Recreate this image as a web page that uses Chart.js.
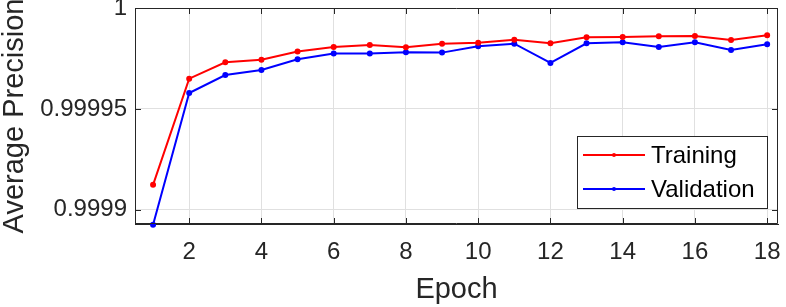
<!DOCTYPE html>
<html>
<head>
<meta charset="utf-8">
<script src="https://cdn.jsdelivr.net/npm/chart.js@4.4.1/dist/chart.umd.min.js"></script>
<style>
  html, body { margin: 0; padding: 0; background: #fff; }
  #wrap { width: 786px; height: 307px; }
</style>
</head>
<body>
<div id="wrap"><canvas id="grafico"></canvas></div>
<script>
// dati
const epoche = [1, 2, 3, 4, 5, 6, 7, 8, 9, 10, 11, 12, 13, 14, 15, 16, 17, 18];
const training = [0.9999124, 0.999965, 0.9999731, 0.9999744, 0.9999784, 0.9999807, 0.9999817, 0.9999805, 0.9999823,
    0.9999828, 0.9999843, 0.9999825, 0.9999855, 0.9999856, 0.999986, 0.9999861, 0.9999842, 0.9999865];
const validation = [0.9998926, 0.9999579, 0.9999668, 0.9999693, 0.9999746, 0.9999774, 0.9999774, 0.9999781, 0.9999779,
    0.999981, 0.9999823, 0.9999728, 0.9999825, 0.999983, 0.9999807, 0.999983, 0.9999792, 0.999982];
const xTicks = [2, 4, 6, 8, 10, 12, 14, 16, 18];
const xTickLabels = ['2', '4', '6', '8', '10', '12', '14', '16', '18'];
const yTicks = [0.9999, 0.99995, 1];
const yTickLabels = ['0.9999', '0.99995', '1'];

const coloreAssi = '#262626';
const font = 'Liberation Sans, Arial, Helvetica, sans-serif';

// box e tacche verso l'interno, come in MATLAB
const boxPlugin = {
    id: 'box',
    afterDatasetsDraw(chart) {
        const ctx = chart.ctx;
        const a = chart.chartArea;
        const xs = chart.scales.x;
        const ys = chart.scales.y;
        const len = 6;
        ctx.save();
        ctx.strokeStyle = coloreAssi;
        ctx.lineWidth = 1;
        ctx.beginPath();
        ctx.rect(a.left + 0.5, a.top + 0.5, a.right - a.left - 1, a.bottom - a.top - 1);
        xTicks.forEach(t => {
            const px = Math.round(xs.getPixelForValue(t)) + 0.5;
            ctx.moveTo(px, a.bottom);
            ctx.lineTo(px, a.bottom - len);
            ctx.moveTo(px, a.top);
            ctx.lineTo(px, a.top + len);
        });
        yTicks.forEach(t => {
            const py = Math.round(ys.getPixelForValue(t)) + 0.5;
            ctx.moveTo(a.left, py);
            ctx.lineTo(a.left + len, py);
            ctx.moveTo(a.right, py);
            ctx.lineTo(a.right - len, py);
        });
        ctx.stroke();
        ctx.restore();
    }
};

// legenda in basso a destra dentro l'area del grafico
const legendaPlugin = {
    id: 'legenda',
    afterDraw(chart) {
        const ctx = chart.ctx;
        const x0 = 577, y0 = 136, w = 190, h = 72;
        ctx.save();
        ctx.fillStyle = '#fff';
        ctx.fillRect(x0, y0, w, h);
        ctx.strokeStyle = coloreAssi;
        ctx.lineWidth = 1;
        ctx.strokeRect(x0 + 0.5, y0 + 0.5, w, h);
        chart.data.datasets.forEach((ds, i) => {
            const cy = y0 + 19 + i * 34;
            ctx.strokeStyle = ds.borderColor;
            ctx.lineWidth = 2;
            ctx.beginPath();
            ctx.moveTo(x0 + 6, cy);
            ctx.lineTo(x0 + 68, cy);
            ctx.stroke();
            ctx.fillStyle = ds.borderColor;
            ctx.beginPath();
            ctx.arc(x0 + 37, cy, 2, 0, Math.PI * 2);
            ctx.fill();
            ctx.fillStyle = '#000';
            ctx.font = '24px ' + font;
            ctx.textBaseline = 'middle';
            ctx.fillText(ds.label, x0 + 74, cy + 1);
        });
        ctx.restore();
    }
};

const ctx = document.getElementById('grafico').getContext('2d');
new Chart(ctx, {
    type: 'line',
    data: {
        datasets: [{
            label: 'Training',
            data: epoche.map((e, i) => ({ x: e, y: training[i] })),
            borderColor: '#ff0000',
            backgroundColor: '#ff0000',
            borderWidth: 2,
            pointRadius: 2,
            pointHoverRadius: 2,
            tension: 0,
            clip: false
        }, {
            label: 'Validation',
            data: epoche.map((e, i) => ({ x: e, y: validation[i] })),
            borderColor: '#0000ff',
            backgroundColor: '#0000ff',
            borderWidth: 2,
            pointRadius: 2,
            pointHoverRadius: 2,
            tension: 0,
            clip: false
        }]
    },
    options: {
        responsive: true,
        maintainAspectRatio: false,
        animation: false,
        layout: { padding: { top: 8, right: 8, left: 0, bottom: 0 } },
        plugins: {
            legend: { display: false },
            tooltip: { enabled: false }
        },
        scales: {
            x: {
                type: 'linear',
                min: 0.5,
                max: 18.3,
                afterBuildTicks: scale => { scale.ticks = xTicks.map(v => ({ value: v })); },
                afterFit: scale => {
                    scale.height = 83;
                    scale.paddingLeft = 0;
                    scale.paddingRight = 0;
                },
                ticks: {
                    callback: (v, i) => xTickLabels[i],
                    color: coloreAssi,
                    font: { family: font, size: 24 },
                    padding: 14,
                    maxRotation: 0
                },
                grid: { color: '#e0e0e0', drawTicks: false },
                border: { color: coloreAssi, width: 1 },
                title: {
                    display: true,
                    text: 'Epoch',
                    color: coloreAssi,
                    font: { family: font, size: 29, lineHeight: 1.2 },
                    padding: { top: 0, bottom: 0 }
                }
            },
            y: {
                min: 0.999893,
                max: 1,
                afterBuildTicks: scale => { scale.ticks = yTicks.map(v => ({ value: v })); },
                afterFit: scale => {
                    scale.width = 135;
                    scale.paddingTop = 0;
                    scale.paddingBottom = 0;
                },
                ticks: {
                    callback: (v, i) => yTickLabels[i],
                    color: coloreAssi,
                    font: { family: font, size: 24 },
                    padding: 8
                },
                grid: { color: '#e0e0e0', drawTicks: false },
                border: { color: coloreAssi, width: 1 },
                title: {
                    display: true,
                    text: 'Average Precision',
                    color: coloreAssi,
                    font: { family: font, size: 29, lineHeight: 1 },
                    padding: 0
                }
            }
        }
    },
    plugins: [boxPlugin, legendaPlugin]
});
</script>
</body>
</html>
